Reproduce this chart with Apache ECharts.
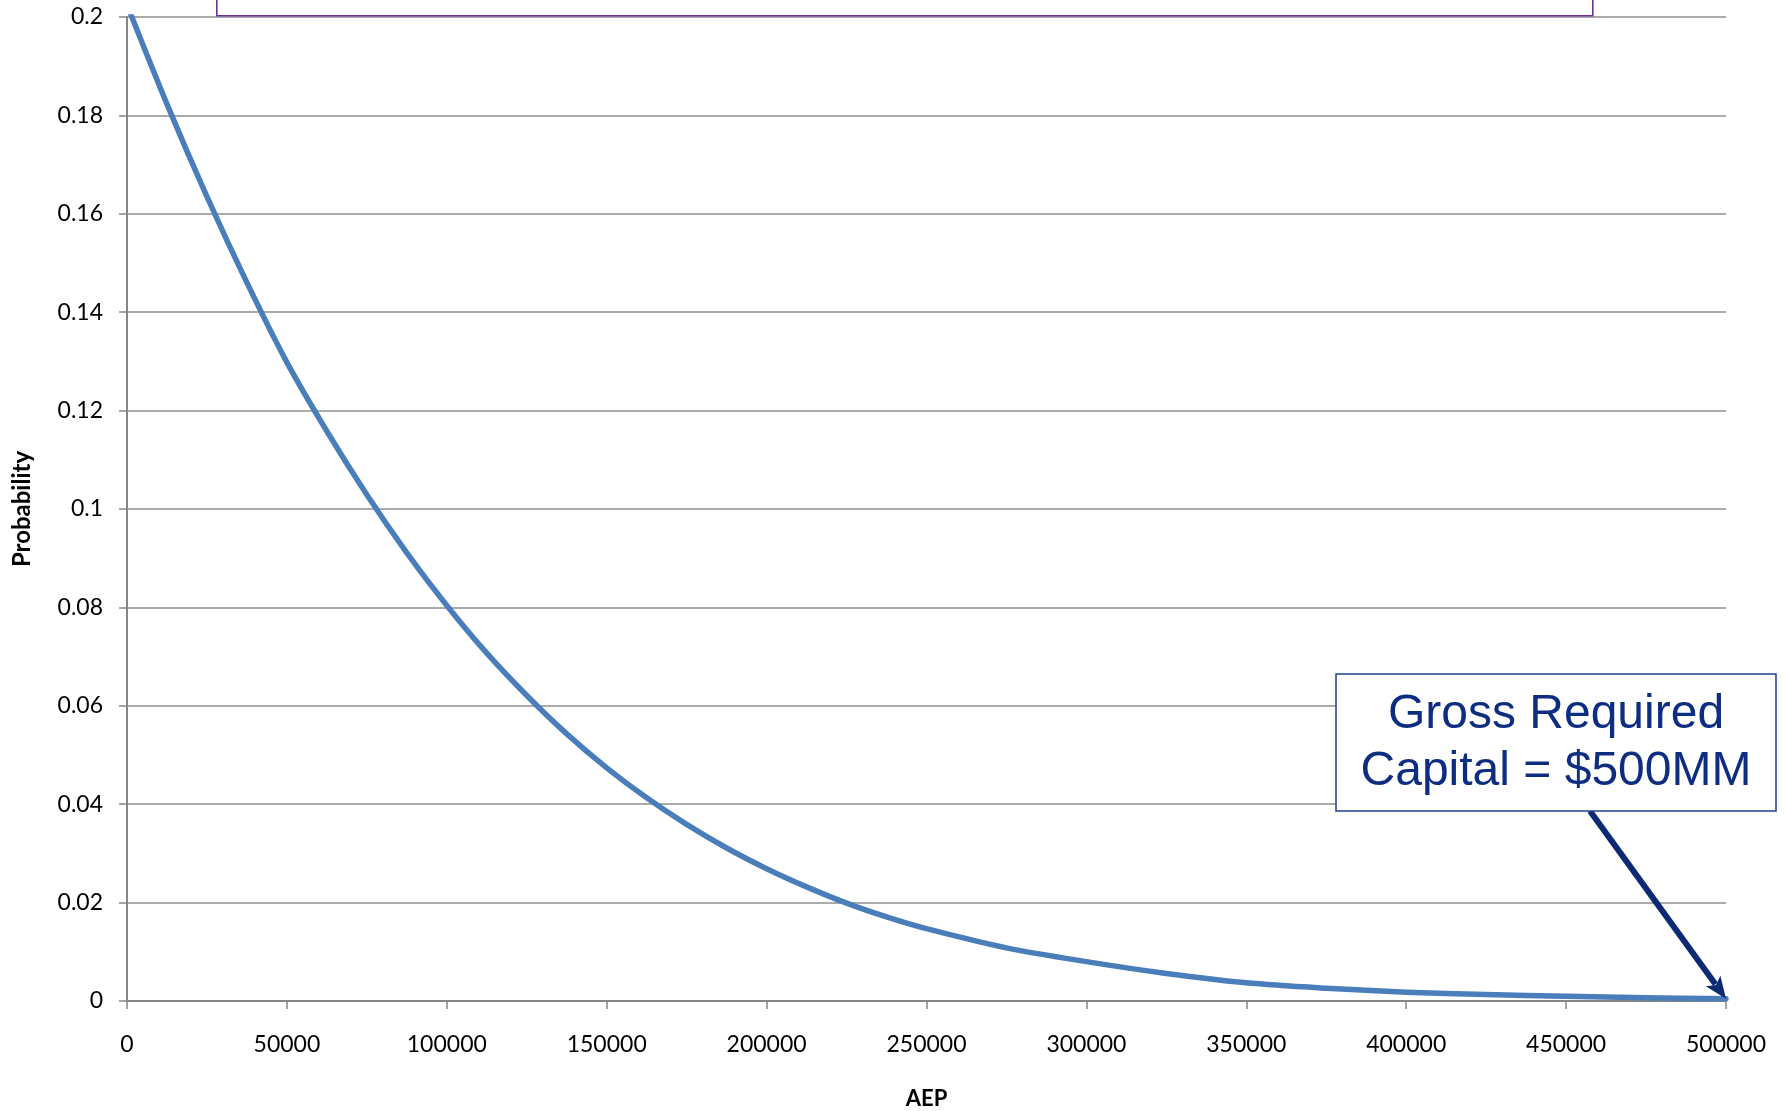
<!DOCTYPE html>
<html><head><meta charset="utf-8">
<script src="https://cdn.jsdelivr.net/npm/echarts@6/dist/echarts.min.js"></script>
<style>html,body{margin:0;padding:0;background:#fff}#c{width:1786px;height:1111px}</style>
</head><body><div id="c"></div>
<script>
// ---- data ----
const aep = [0,12500,25000,37500,50000,62500,75000,87500,100000,112500,125000,137500,150000,162500,175000,187500,200000,212500,225000,237500,250000,275000,300000,325000,350000,375000,400000,425000,450000,475000,500000];
const probability = [0.2025,0.1823,0.1635,0.146,0.1298,0.1158,0.1029,0.0911,0.0804,0.0707,0.0621,0.0543,0.0474,0.0413,0.0359,0.0311,0.0269,0.0232,0.0199,0.0171,0.0147,0.0108,0.0080,0.0056,0.0037,0.0026,0.0018,0.0013,0.00095,0.00068,0.00045];
const xAxisRange = [0, 500000, 50000];
const yAxisRange = [0, 0.2, 0.02];
const xName = 'AEP';
const yName = 'Probability';
const calloutLines = ['Gross Required', 'Capital = $500MM'];
const calloutTarget = [500000, 0.00045];

const chart = echarts.init(document.getElementById('c'), null, {renderer: 'canvas'});
const axisGray = '#868686';
const option = {
  backgroundColor: '#ffffff',
  animation: false,
  grid: {left: 127, right: 60, top: 17, bottom: 110, containLabel: false, outerBoundsMode: 'none'},
  xAxis: {
    type: 'value', min: xAxisRange[0], max: xAxisRange[1], interval: xAxisRange[2],
    name: xName, nameLocation: 'middle', nameGap: 87,
    nameTextStyle: {fontFamily: 'Lato', fontWeight: 'bold', fontSize: 22, color: '#000'},
    axisLine: {show: true, onZero: false, lineStyle: {color: axisGray, width: 2}},
    axisTick: {show: true, length: 8, lineStyle: {color: axisGray, width: 1.5}},
    axisLabel: {fontFamily: 'Lato', fontSize: 23, color: '#000', margin: 32, formatter: v => String(v)},
    splitLine: {show: false}
  },
  yAxis: {
    type: 'value', min: yAxisRange[0], max: yAxisRange[1], interval: yAxisRange[2],
    name: yName, nameLocation: 'middle', nameGap: 93, nameRotate: 90,
    nameTextStyle: {fontFamily: 'Lato', fontWeight: 'bold', fontSize: 24, color: '#000'},
    axisLine: {show: true, onZero: false, lineStyle: {color: axisGray, width: 2}},
    axisTick: {show: true, length: 8, lineStyle: {color: axisGray, width: 1.5}},
    axisLabel: {fontFamily: 'Lato', fontSize: 23, color: '#000', margin: 24},
    splitLine: {show: true, lineStyle: {color: '#8e8e8e', width: 1.5}}
  },
  series: [{
    type: 'line',
    data: aep.map((x, i) => [x, probability[i]]),
    smooth: 0.3,
    showSymbol: false,
    clip: true,
    lineStyle: {color: '#4a7ebb', width: 5.5, cap: 'round', join: 'round'},
    z: 3
  }]
};
chart.setOption(option);

// callout box (fixed position like the reference) + arrow pointing at the data point
const box = {x: 1336, y: 674, w: 440, h: 137};
const tip = chart.convertToPixel({gridIndex: 0}, calloutTarget);
const start = [1590, box.y + box.h];
const dx = tip[0] - start[0], dy = tip[1] - start[1];
const len = Math.sqrt(dx * dx + dy * dy);
const ux = dx / len, uy = dy / len;
const headLen = 22, headHalf = 9;
const base = [tip[0] - ux * headLen, tip[1] - uy * headLen];
const px = -uy, py = ux;
const navy = '#0b2a72';
chart.setOption({
  graphic: [
    {type: 'rect', left: 216, top: -60, shape: {x: 0, y: 0, width: 1376, height: 75},
     style: {fill: '#ffffff', stroke: '#7030a0', lineWidth: 1.6}, z: 10},
    {type: 'line', shape: {x1: start[0], y1: start[1], x2: base[0] + ux * 4, y2: base[1] + uy * 4},
     style: {stroke: navy, lineWidth: 6}, z: 20},
    {type: 'polygon', shape: {points: [tip, [base[0] + px * headHalf, base[1] + py * headHalf], [base[0] + ux * 5, base[1] + uy * 5], [base[0] - px * headHalf, base[1] - py * headHalf]]},
     style: {fill: navy}, z: 20},
    {type: 'rect', shape: {x: box.x, y: box.y, width: box.w, height: box.h},
     style: {fill: '#ffffff', stroke: '#1f3f8a', lineWidth: 1.5}, z: 21},
    {type: 'text', x: box.x + box.w / 2, y: box.y + box.h / 2 + 1,
     style: {text: calloutLines.join('\n'), fontFamily: 'Liberation Sans', fontSize: 48, lineHeight: 57,
             fill: '#0d2d80', align: 'center', verticalAlign: 'middle'}, z: 22}
  ]
});
</script>
</body></html>
